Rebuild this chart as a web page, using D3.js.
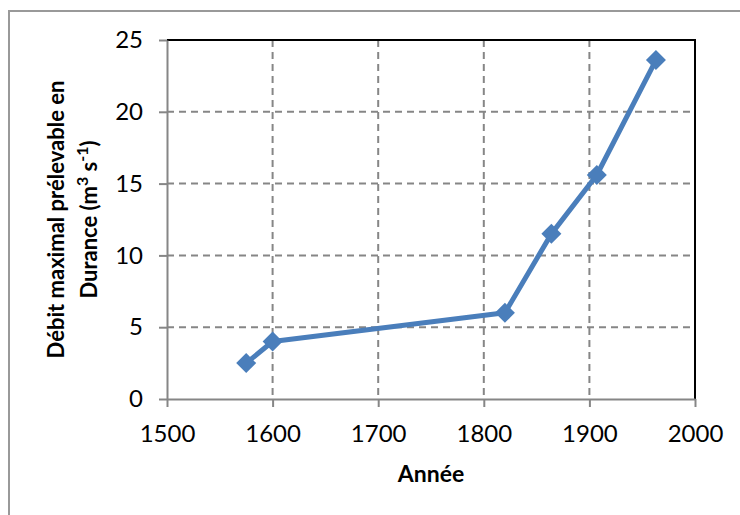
<!DOCTYPE html>
<html>
<head>
<meta charset="utf-8">
<script src="https://cdn.jsdelivr.net/npm/d3@7"></script>
<style>
  body { margin: 0; background: #fff; }
  svg text { font-family: Lato, "Open Sans", sans-serif; }
</style>
</head>
<body>
<div class="chart"></div>
<script>
var svgWidth = 740;
var svgHeight = 515;

// data
var years = [1575, 1600, 1820, 1864, 1907, 1963];
var debit = [2.5, 4, 6, 11.5, 15.6, 23.6];
var xTicks = [1500, 1600, 1700, 1800, 1900, 2000];
var yTicks = [0, 5, 10, 15, 20, 25];

var margin = { top: 40, right: 45, bottom: 116, left: 167 };
var width = 695 - margin.left;
var height = 399 - margin.top;

var svg = d3.select(".chart")
  .append("svg")
  .attr("width", svgWidth)
  .attr("height", svgHeight);

// outer frame of the chart area
svg.append("rect")
  .attr("x", 9).attr("y", 11)
  .attr("width", 760).attr("height", 540)
  .attr("fill", "none")
  .attr("stroke", "#999")
  .attr("stroke-width", 2);

var chartGroup = svg.append("g")
  .attr("transform", `translate(${margin.left}, ${margin.top})`);

var x = d3.scaleLinear().domain([1500, 2000]).range([0, width]);
var y = d3.scaleLinear().domain([0, 25]).range([height, 0]);

// dashed grid
chartGroup.append("g")
  .selectAll("line")
  .data(xTicks.slice(1, -1))
  .enter().append("line")
  .attr("x1", d => x(d)).attr("x2", d => x(d))
  .attr("y1", 0).attr("y2", height)
  .attr("stroke", "#868686").attr("stroke-width", 2)
  .attr("stroke-dasharray", "7,5");

chartGroup.append("g")
  .selectAll("line")
  .data(yTicks.slice(1, -1))
  .enter().append("line")
  .attr("x1", 0).attr("x2", width)
  .attr("y1", d => y(d)).attr("y2", d => y(d))
  .attr("stroke", "#868686").attr("stroke-width", 2)
  .attr("stroke-dasharray", "7,5");

// top and right border in black
chartGroup.append("path")
  .attr("d", `M0,0H${width}V${height}`)
  .attr("fill", "none")
  .attr("stroke", "#000")
  .attr("stroke-width", 2);

// axes
var xAxis = chartGroup.append("g")
  .attr("transform", `translate(0, ${height})`)
  .call(d3.axisBottom(x).tickValues(xTicks).tickFormat(d3.format("d")).tickSizeInner(8).tickSizeOuter(0).tickPadding(18));

var yAxis = chartGroup.append("g")
  .call(d3.axisLeft(y).tickValues(yTicks).tickSizeInner(8).tickSizeOuter(0).tickPadding(16));

[xAxis, yAxis].forEach(function(ax) {
  ax.select(".domain").attr("stroke", "#868686").attr("stroke-width", 2);
  ax.selectAll(".tick line").attr("stroke", "#868686").attr("stroke-width", 2);
  ax.selectAll(".tick text")
    .style("font-size", "24px")
    .attr("fill", "#000");
});

// axis titles
svg.append("text")
  .attr("x", margin.left + width / 2)
  .attr("y", 482)
  .attr("text-anchor", "middle")
  .style("font-size", "23px")
  .style("font-weight", "bold")
  .text("Année");

var yTitle = svg.append("text")
  .attr("transform", "translate(0," + (margin.top + height / 2) + ") rotate(-90)")
  .attr("text-anchor", "middle")
  .style("font-size", "22px")
  .style("font-weight", "bold");

yTitle.append("tspan").attr("x", 0).attr("y", 64).text("Débit maximal prélevable en");
var l2 = yTitle.append("tspan").attr("x", 0).attr("y", 97);
l2.append("tspan").text("Durance (m");
l2.append("tspan").attr("dy", -9).style("font-size", "16px").text("3");
l2.append("tspan").attr("dy", 9).text(" s");
l2.append("tspan").attr("dy", -9).style("font-size", "16px").text("-1");
l2.append("tspan").attr("dy", 9).text(")");

// line series
var pts = years.map((yr, i) => [yr, debit[i]]);

chartGroup.append("path")
  .datum(pts)
  .attr("fill", "none")
  .attr("stroke", "#4a7ebb")
  .attr("stroke-width", 5)
  .attr("stroke-linejoin", "round")
  .attr("d", d3.line().x(d => x(d[0])).y(d => y(d[1])));

chartGroup.selectAll(".marker")
  .data(pts)
  .enter().append("path")
  .attr("class", "marker")
  .attr("transform", d => `translate(${x(d[0])}, ${y(d[1])})`)
  .attr("d", "M0,-10L10,0L0,10L-10,0Z")
  .attr("fill", "#4a7ebb");
</script>
</body>
</html>
